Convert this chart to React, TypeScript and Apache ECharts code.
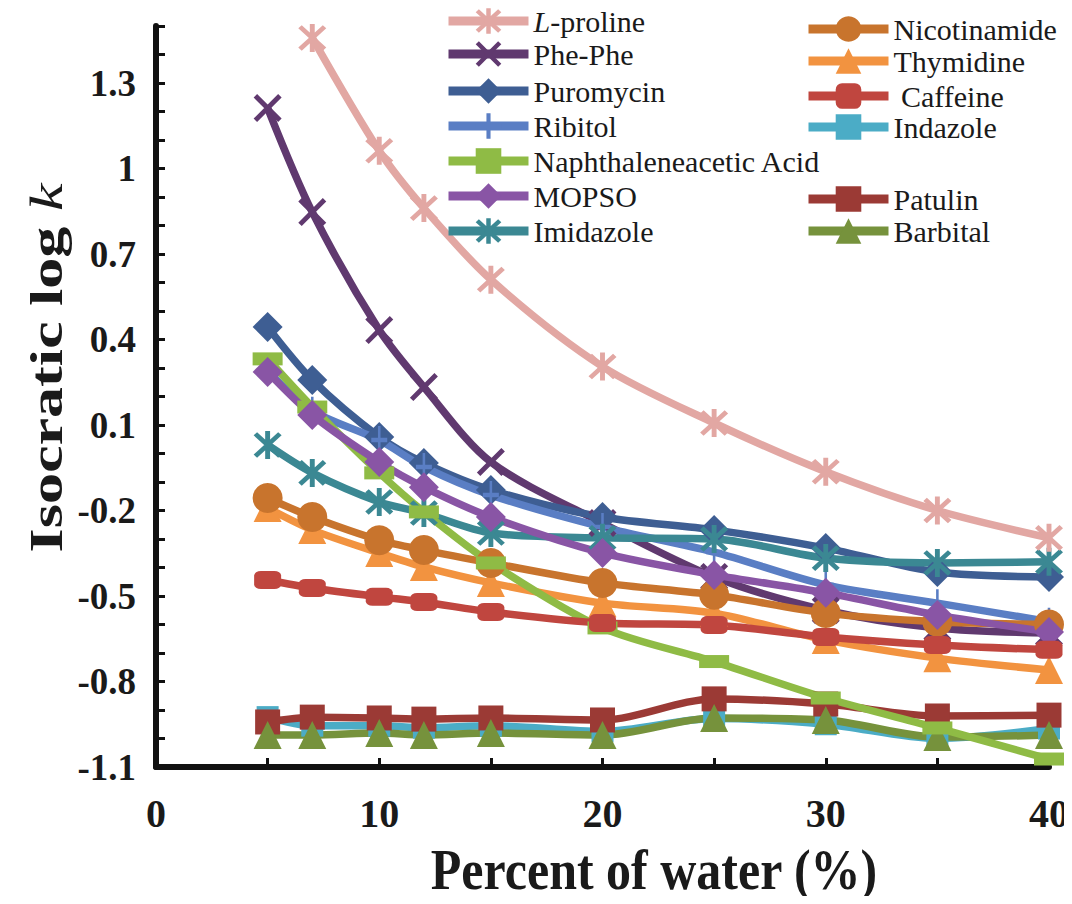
import React, { useEffect, useRef } from 'react';
import * as echarts from 'echarts';

// ---------- data ----------
const water = [5, 7, 10, 12, 15, 20, 25, 30, 35, 40];
const waterLProline = [7, 10, 12, 15, 20, 25, 30, 35, 40];

const lProline = [1.458, 1.062, 0.861, 0.61, 0.305, 0.107, -0.064, -0.2, -0.296];
const phePhe = [1.212, 0.847, 0.433, 0.233, -0.03, -0.244, -0.433, -0.55, -0.612, -0.63];
const puromycin = [0.444, 0.258, 0.058, -0.033, -0.128, -0.223, -0.268, -0.332, -0.416, -0.433];
const ribitol = [0.29, 0.15, 0.047, -0.047, -0.146, -0.258, -0.346, -0.461, -0.525, -0.59];
const naphthaleneaceticAcid = [0.332, 0.163, -0.068, -0.205, -0.384, -0.612, -0.73, -0.858, -0.963, -1.072];
const mopso = [0.286, 0.135, -0.03, -0.118, -0.223, -0.349, -0.426, -0.489, -0.567, -0.626];
const imidazole = [0.03, -0.068, -0.17, -0.209, -0.279, -0.296, -0.3, -0.367, -0.384, -0.38];
const nicotinamide = [-0.156, -0.223, -0.304, -0.339, -0.384, -0.454, -0.496, -0.56, -0.59, -0.6];
const thymidine = [-0.191, -0.268, -0.349, -0.398, -0.454, -0.525, -0.56, -0.654, -0.718, -0.76];
const caffeine = [-0.444, -0.472, -0.503, -0.521, -0.556, -0.595, -0.602, -0.644, -0.672, -0.689];
const indazole = [-0.925, -0.955, -0.955, -0.962, -0.955, -0.975, -0.93, -0.95, -1.0, -0.965];
const patulin = [-0.942, -0.925, -0.928, -0.932, -0.928, -0.935, -0.861, -0.879, -0.921, -0.918];
const barbital = [-0.988, -0.988, -0.981, -0.988, -0.981, -0.988, -0.928, -0.935, -0.995, -0.988];

const yTickLabels = [-1.1, -0.8, -0.5, -0.2, 0.1, 0.4, 0.7, 1, 1.3];
const xTickLabels = [0, 10, 20, 30, 40];

// ---------- styling ----------
const SERIF = "'Liberation Serif', 'Times New Roman', serif";

const ASTERISK =
  'path://M8.4 0H11.6V20H8.4Z M3.13 0.87L19.13 16.87L16.87 19.13L0.87 3.13Z M19.13 3.13L3.13 19.13L0.87 16.87L16.87 0.87Z';
const XMARK =
  'path://M3.13 0.87L19.13 16.87L16.87 19.13L0.87 3.13Z M19.13 3.13L3.13 19.13L0.87 16.87L16.87 0.87Z';
const PLUS = 'path://M8.4 0H11.6V20H8.4Z M0 8.4H20V11.6H0Z';

type Def = {
  name: string;
  x: number[];
  y: number[];
  color: string;
  symbol: string;
  size: number | number[];
  legendLeft: number;
  legendCenter: number;
};

const defs: Def[] = [
  { name: 'Indazole', x: water, y: indazole, color: '#4bacc6', symbol: 'rect', size: 22, legendLeft: 804, legendCenter: 128 },
  { name: 'Patulin', x: water, y: patulin, color: '#9b3a35', symbol: 'rect', size: 25, legendLeft: 804, legendCenter: 200 },
  { name: 'Barbital', x: water, y: barbital, color: '#76923c', symbol: 'triangle', size: 28, legendLeft: 804, legendCenter: 232 },
  { name: 'Phe-Phe', x: water, y: phePhe, color: '#60396f', symbol: XMARK, size: 28, legendLeft: 444, legendCenter: 55 },
  { name: 'Puromycin', x: water, y: puromycin, color: '#3e5e93', symbol: 'diamond', size: 30, legendLeft: 444, legendCenter: 92 },
  { name: 'Ribitol', x: water, y: ribitol, color: '#5a7ec4', symbol: PLUS, size: [16, 28], legendLeft: 444, legendCenter: 127 },
  { name: 'Imidazole', x: water, y: imidazole, color: '#3b8893', symbol: ASTERISK, size: 28, legendLeft: 444, legendCenter: 232 },
  { name: 'Thymidine', x: water, y: thymidine, color: '#f29340', symbol: 'triangle', size: 28, legendLeft: 804, legendCenter: 62 },
  { name: 'Nicotinamide', x: water, y: nicotinamide, color: '#c8742d', symbol: 'circle', size: 30, legendLeft: 804, legendCenter: 30 },
  { name: 'Naphthaleneacetic Acid', x: water, y: naphthaleneaceticAcid, color: '#8fbb45', symbol: 'rect', size: [30, 13], legendLeft: 444, legendCenter: 162 },
  { name: 'MOPSO', x: water, y: mopso, color: '#8955a5', symbol: 'diamond', size: 30, legendLeft: 444, legendCenter: 197 },
  { name: 'Caffeine', x: water, y: caffeine, color: '#c0463f', symbol: 'roundRect', size: [27, 18], legendLeft: 804, legendCenter: 97 },
  { name: 'L-proline', x: waterLProline, y: lProline, color: '#e2a7a3', symbol: ASTERISK, size: 28, legendLeft: 444, legendCenter: 22 },
];

const isMultiple = (v: number, base: number, step: number) => {
  const k = (v - base) / step;
  return Math.abs(k - Math.round(k)) < 1e-6;
};

export default function App() {
  const ref = useRef<HTMLDivElement>(null);

  useEffect(() => {
    if (!ref.current) return;
    const chart = echarts.init(ref.current, undefined, { renderer: 'svg' });

    const series = defs.map((d) => ({
      name: d.name,
      type: 'line',
      smooth: 0.3,
      data: d.x.map((xv, i) => [xv, d.y[i]]),
      symbol: d.symbol,
      symbolSize: d.size,
      lineStyle: { width: 7.5, color: d.color },
      itemStyle: { color: d.color },
    }));

    const legends = defs.map((d) => ({
      data: [d.name],
      left: d.legendLeft,
      top: d.legendCenter - 16,
      padding: 0,
      itemWidth: 80,
      itemHeight: 32,
      itemGap: 0,
      selectedMode: false,
      lineStyle: { width: 9 },
      formatter: (n: string) => (n === 'L-proline' ? '{i|L}{n|-proline}' : n === 'Caffeine' ? ' Caffeine' : n),
      textStyle: {
        fontFamily: SERIF,
        fontSize: 30,
        lineHeight: 27,
        color: '#1a1a1a',
        rich: {
          i: { fontFamily: SERIF, fontSize: 30, lineHeight: 27, fontStyle: 'italic', color: '#1a1a1a' },
          n: { fontFamily: SERIF, fontSize: 30, lineHeight: 27, color: '#1a1a1a' },
        },
      },
    }));

    chart.setOption({
      animation: false,
      backgroundColor: '#ffffff',
      grid: { left: 156, right: 19, top: 26, bottom: 137, containLabel: false },
      legend: legends,
      xAxis: {
        type: 'value',
        min: 0,
        max: 40,
        interval: 5,
        axisLine: { show: true, onZero: false, lineStyle: { color: '#111', width: 6 } },
        axisTick: { show: true, inside: true, length: 9, lineStyle: { color: '#111', width: 3 } },
        splitLine: { show: false },
        axisLabel: {
          margin: 26,
          fontFamily: SERIF,
          fontWeight: 'bold',
          fontSize: 40,
          color: '#1a1a1a',
          formatter: (v: number) => (xTickLabels.some((t) => Math.abs(t - v) < 1e-6) ? String(v) : ''),
        },
      },
      yAxis: {
        type: 'value',
        min: -1.1,
        max: 1.5,
        interval: 0.1,
        axisLine: { show: true, onZero: false, lineStyle: { color: '#111', width: 6 } },
        axisTick: { show: true, inside: true, length: 9, lineStyle: { color: '#111', width: 3 } },
        splitLine: { show: false },
        axisLabel: {
          margin: 20,
          fontFamily: SERIF,
          fontWeight: 'bold',
          fontSize: 37,
          color: '#1a1a1a',
          formatter: (v: number) => {
            const r = parseFloat(v.toFixed(1));
            return yTickLabels.some((t) => Math.abs(t - r) < 1e-6) && isMultiple(r, -1.1, 0.3) ? String(r) : '';
          },
        },
      },
      graphic: [
        {
          type: 'text',
          x: 46,
          y: 368,
          rotation: Math.PI / 2,
          scaleX: 1.35,
          style: {
            text: '{a|Isocratic log }{b|k}',
            align: 'center',
            verticalAlign: 'middle',
            rich: {
              a: { fontFamily: SERIF, fontWeight: 'bold', fontSize: 46, fill: '#1a1a1a' },
              b: { fontFamily: SERIF, fontStyle: 'italic', fontSize: 46, fill: '#1a1a1a' },
            },
          },
        },
        {
          type: 'text',
          x: 654,
          y: 870,
          scaleY: 1.15,
          style: {
            text: 'Percent of water (%)',
            align: 'center',
            verticalAlign: 'middle',
            fontFamily: SERIF,
            fontWeight: 'bold',
            fontSize: 50,
            fill: '#1a1a1a',
          },
        },
      ],
      series,
    });

    return () => chart.dispose();
  }, []);

  return <div ref={ref} style={{ width: 1072, height: 904, margin: -8 }} />;
}
